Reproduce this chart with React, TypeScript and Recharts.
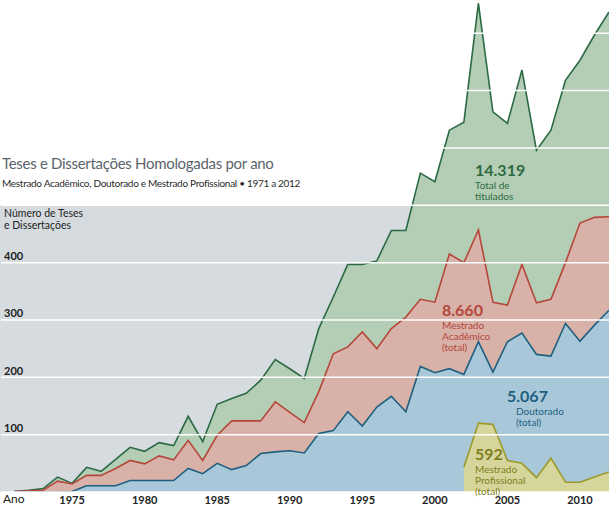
import React from 'react';
import { AreaChart, Area, XAxis, YAxis, CartesianGrid } from 'recharts';

// Teses e dissertações homologadas por ano (1971 a 2012)
const YEARS = [
  1971, 1972, 1973, 1974, 1975, 1976, 1977, 1978, 1979, 1980,
  1981, 1982, 1983, 1984, 1985, 1986, 1987, 1988, 1989, 1990,
  1991, 1992, 1993, 1994, 1995, 1996, 1997, 1998, 1999, 2000,
  2001, 2002, 2003, 2004, 2005, 2006, 2007, 2008, 2009, 2010,
  2011, 2012,
];

const TOTAL = [
  1, 3, 6, 26, 15, 43, 36, 57, 78, 71,
  86, 81, 132, 88, 153, 163, 172, 195, 231, 215,
  198, 285, 340, 397, 397, 403, 456, 456, 556, 541,
  631, 645, 852, 663, 643, 736, 596, 631, 718, 753,
  797, 837,
];

const ACADEMICO = [
  1, 2, 3, 19, 14, 29, 29, 41, 55, 49,
  63, 56, 90, 55, 99, 124, 124, 124, 157, 139,
  121, 175, 241, 253, 279, 250, 285, 305, 336, 331,
  415, 400, 457, 331, 326, 397, 330, 336, 400, 469,
  479, 480,
];

const DOUTORADO = [
  0, 0, 0, 0, 1, 11, 11, 11, 20, 20,
  20, 20, 41, 32, 50, 39, 46, 67, 70, 72,
  68, 102, 107, 140, 115, 148, 167, 140, 219, 208,
  215, 205, 262, 209, 262, 277, 240, 237, 294, 263,
  291, 317,
];

const PROFISSIONAL = [
  null, null, null, null, null, null, null, null, null, null,
  null, null, null, null, null, null, null, null, null, null,
  null, null, null, null, null, null, null, null, null, null,
  null, 43, 120, 118, 55, 50, 25, 59, 17, 17,
  26, 35,
];

const X_TICKS = [1975, 1980, 1985, 1990, 1995, 2000, 2005, 2010];
const Y_TICKS = [100, 200, 300, 400, 500, 600, 700, 800];
const Y_LABEL_MAX = 400;

const data = YEARS.map((ano, i) => ({
  ano,
  total: TOTAL[i],
  academico: ACADEMICO[i],
  doutorado: DOUTORADO[i],
  profissional: PROFISSIONAL[i],
}));

const FONT = "Lato, 'Open Sans', sans-serif";

const XTick = ({ x, y, payload }: any) => (
  <text x={x} y={y} dy={4} textAnchor="middle" fontFamily={FONT} fontSize={11} fontWeight={700} fill="#222">
    {payload.value}
  </text>
);

const YTick = ({ y, payload }: any) => {
  if (payload.value > Y_LABEL_MAX) return <g />;
  return (
    <text x={4} y={y - 7} dominantBaseline="central" textAnchor="start" fontFamily={FONT} fontSize={11} fontWeight={700} fill="#222">
      {payload.value}
    </text>
  );
};

// valor em destaque + legenda de cada série
const Note = ({ left, numTop, linesTop, indent = 0, color, value, lines }: any) => (
  <>
    <div style={{ position: 'absolute', left, top: numTop, color, fontSize: 16, lineHeight: '15px', fontWeight: 700, whiteSpace: 'nowrap' }}>
      {value}
    </div>
    <div style={{ position: 'absolute', left: left + indent, top: linesTop, color, fontSize: 10, lineHeight: '11px', whiteSpace: 'nowrap' }}>
      {lines.map((l: string) => <div key={l}>{l}</div>)}
    </div>
  </>
);

export default function App() {
  return (
    <div style={{ position: 'absolute', left: 0, top: 0, width: 609, height: 508, background: '#fff', fontFamily: FONT, overflow: 'hidden' }}>
      <div style={{ position: 'absolute', left: 0, top: 205, width: 609, height: 287, background: '#d5dbde' }} />

      <div style={{ position: 'absolute', left: 0, top: 0 }}>
        <AreaChart width={609} height={508} data={data} margin={{ top: 0, right: 0, left: 0, bottom: 0 }}>
          <XAxis
            dataKey="ano"
            type="number"
            domain={[1970.1, 2012]}
            ticks={X_TICKS}
            interval={0}
            axisLine={false}
            tickLine={false}
            height={16}
            tick={<XTick />}
            allowDataOverflow
          />
          <YAxis
            domain={[0, 858]}
            ticks={Y_TICKS}
            interval={0}
            axisLine={false}
            tickLine={false}
            width={1}
            tick={<YTick />}
            allowDataOverflow
          />
          <Area type="linear" dataKey="total" stroke="#2b6a45" strokeWidth={1.6} fill="#b4ceb6" fillOpacity={1} dot={false} activeDot={false} isAnimationActive={false} />
          <Area type="linear" dataKey="academico" stroke="#b5473a" strokeWidth={1.6} fill="#d8b1a8" fillOpacity={1} dot={false} activeDot={false} isAnimationActive={false} />
          <Area type="linear" dataKey="doutorado" stroke="#1f5f7f" strokeWidth={1.6} fill="#a8c8d9" fillOpacity={1} dot={false} activeDot={false} isAnimationActive={false} />
          <Area type="linear" dataKey="profissional" stroke="#9c9b2c" strokeWidth={1.6} fill="#d6d59c" fillOpacity={1} dot={false} activeDot={false} isAnimationActive={false} />
          <CartesianGrid vertical={false} stroke="#ffffff" strokeWidth={1.5} zIndex={1000} />
        </AreaChart>
      </div>

      <div style={{ position: 'absolute', left: 2, top: 153, fontSize: 15, letterSpacing: -0.3, lineHeight: '20px', color: '#5b646b', whiteSpace: 'nowrap' }}>
        Teses e Dissertações Homologadas por ano
      </div>
      <div style={{ position: 'absolute', left: 2, top: 177, fontSize: 10, letterSpacing: -0.3, lineHeight: '12px', color: '#2a2a2a', whiteSpace: 'nowrap' }}>
        Mestrado Acadêmico, Doutorado e Mestrado Profissional • 1971 a 2012
      </div>
      <div style={{ position: 'absolute', left: 4, top: 207, fontSize: 10.5, lineHeight: '12px', color: '#222' }}>
        <div>Número de Teses</div>
        <div>e Dissertações</div>
      </div>
      <div style={{ position: 'absolute', left: 3, top: 492, fontSize: 12, lineHeight: '14px', color: '#222' }}>Ano</div>

      <Note left={475} numTop={162} linesTop={180} color="#2e6b40" value="14.319" lines={['Total de', 'titulados']} />
      <Note left={442} numTop={302} linesTop={320} color="#b5473a" value="8.660" lines={['Mestrado', 'Acadêmico', '(total)']} />
      <Note left={507} numTop={388} linesTop={406} indent={9} color="#1f5f80" value="5.067" lines={['Doutorado', '(total)']} />
      <Note left={475} numTop={446} linesTop={464} color="#7f7f1a" value="592" lines={['Mestrado', 'Profissional', '(total)']} />
    </div>
  );
}
